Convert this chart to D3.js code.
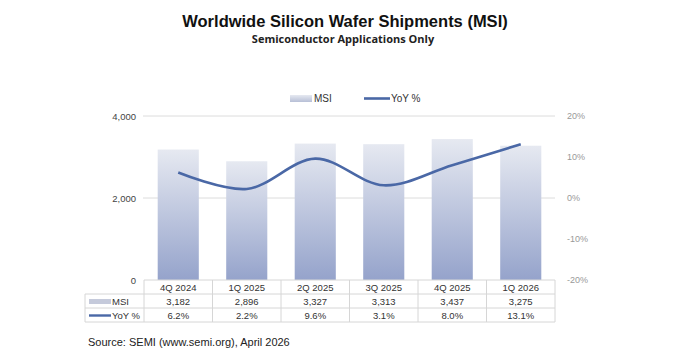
<!DOCTYPE html>
<html><head><meta charset="utf-8">
<script src="https://cdn.jsdelivr.net/npm/d3@7"></script>
<style>body{margin:0;background:#fff}svg{font-family:Arial,"Liberation Sans",sans-serif}</style>
</head><body>
<svg id="c" width="700" height="350"></svg>
<script>
const categories = ["4Q 2024","1Q 2025","2Q 2025","3Q 2025","4Q 2025","1Q 2026"];
const msi = [3182, 2896, 3327, 3313, 3437, 3275];
const yoy = [6.2, 2.2, 9.6, 3.1, 8.0, 13.1];
const leftTicks = [0, 2000, 4000];
const rightTicks = [-20, -10, 0, 10, 20];
const msiLabels = ["3,182","2,896","3,327","3,313","3,437","3,275"];
const yoyLabels = ["6.2%","2.2%","9.6%","3.1%","8.0%","13.1%"];

const svg = d3.select("#c");
const x0 = 144, x1 = 555, yTop = 116, yBot = 280;
const x = d3.scaleBand().domain(categories).range([x0, x1]).paddingInner(0.4).paddingOuter(0.2);
const xb = d3.scaleBand().domain(categories).range([x0, x1]);
const yL = d3.scaleLinear().domain([0, 4000]).range([yBot, yTop]);
const yR = d3.scaleLinear().domain([-20, 20]).range([yBot, yTop]);

const defs = svg.append("defs");
const g = defs.append("linearGradient").attr("id","bg").attr("x1",0).attr("y1",0).attr("x2",0).attr("y2",1);
g.append("stop").attr("offset","0%").attr("stop-color","#e6e9f1");
g.append("stop").attr("offset","100%").attr("stop-color","#95a3cb");
const g2 = defs.append("linearGradient").attr("id","bg2").attr("x1",0).attr("y1",0).attr("x2",0).attr("y2",1);
g2.append("stop").attr("offset","0%").attr("stop-color","#e6e9f1");
g2.append("stop").attr("offset","100%").attr("stop-color","#b7bfd6");

// Title
svg.append("text").attr("x",345).attr("y",27).attr("text-anchor","middle")
  .attr("font-size",16.5).attr("font-weight","bold").attr("fill","#111")
  .text("Worldwide Silicon Wafer Shipments (MSI)");
svg.append("text").attr("x",343).attr("y",43).attr("text-anchor","middle")
  .attr("font-size",11).attr("font-weight","bold").attr("fill","#222")
  .attr("font-family","'Open Sans',sans-serif")
  .text("Semiconductor Applications Only");

// gridlines
svg.append("g").selectAll("line").data(leftTicks.filter(d=>d>0)).join("line")
  .attr("x1",x0-1).attr("x2",x1).attr("y1",d=>yL(d)).attr("y2",d=>yL(d))
  .attr("stroke","#dcdcdc").attr("stroke-width",1);

// left axis
const la = svg.append("g").attr("transform",`translate(${x0-6},0)`)
  .call(d3.axisLeft(yL).tickValues(leftTicks).tickSize(0).tickPadding(2).tickFormat(d3.format(",")));
la.select(".domain").remove();
la.selectAll("text").attr("font-size",9.5).attr("fill","#444").attr("font-family","Arial,sans-serif");

// right axis
const ra = svg.append("g").attr("transform",`translate(${x1+10},0)`)
  .call(d3.axisRight(yR).tickValues(rightTicks).tickSize(0).tickPadding(2).tickFormat(d=>d+"%"));
ra.select(".domain").remove();
ra.selectAll("text").attr("font-size",9).attr("fill","#999").attr("font-family","Arial,sans-serif");

// bars
svg.append("g").selectAll("rect").data(msi).join("rect")
  .attr("x",(d,i)=>x(categories[i])).attr("width",x.bandwidth())
  .attr("y",d=>yL(d)).attr("height",d=>yBot-yL(d)).attr("fill","url(#bg)");

// line
const line = d3.line().x((d,i)=>xb(categories[i])+xb.bandwidth()/2).y(d=>yR(d)).curve(d3.curveCatmullRom.alpha(0.5));
svg.append("path").datum(yoy).attr("d",line).attr("fill","none").attr("stroke","#4a68a6").attr("stroke-width",2.6);

// legend
const lg = svg.append("g");
lg.append("rect").attr("x",290).attr("y",95).attr("width",22).attr("height",7).attr("fill","url(#bg2)");
lg.append("text").attr("x",314).attr("y",102).attr("font-size",10).attr("fill","#333").text("MSI");
lg.append("line").attr("x1",364).attr("x2",390).attr("y1",98.5).attr("y2",98.5).attr("stroke","#4a68a6").attr("stroke-width",2.6);
lg.append("text").attr("x",391).attr("y",102).attr("font-size",10).attr("fill","#333").text("YoY %");

// data table
const rows = [280, 294, 308, 322];
const tl = 85, bc = "#d6d6d6";
const t = svg.append("g");
// horizontal lines
t.append("line").attr("x1",x0).attr("x2",x1).attr("y1",rows[0]).attr("y2",rows[0]).attr("stroke",bc);
[rows[1],rows[2],rows[3]].forEach(yv=>{
  t.append("line").attr("x1",tl).attr("x2",x1).attr("y1",yv).attr("y2",yv).attr("stroke",bc);
});
// vertical lines
t.append("line").attr("x1",tl).attr("x2",tl).attr("y1",rows[1]).attr("y2",rows[3]).attr("stroke",bc);
categories.forEach((c,i)=>{
  t.append("line").attr("x1",xb(c)).attr("x2",xb(c)).attr("y1",rows[0]).attr("y2",rows[3]).attr("stroke",bc);
});
t.append("line").attr("x1",x1).attr("x2",x1).attr("y1",rows[0]).attr("y2",rows[3]).attr("stroke",bc);
// header labels
t.selectAll("text.h").data(categories).join("text").attr("class","h")
  .attr("x",c=>xb(c)+xb.bandwidth()/2).attr("y",rows[0]+10.5).attr("text-anchor","middle")
  .attr("font-size",9.5).attr("fill","#333").text(c=>c);
t.selectAll("text.m").data(msiLabels).join("text").attr("class","m")
  .attr("x",(d,i)=>xb(categories[i])+xb.bandwidth()/2).attr("y",rows[1]+10.5).attr("text-anchor","middle")
  .attr("font-size",9.5).attr("fill","#333").text(d=>d);
t.selectAll("text.y").data(yoyLabels).join("text").attr("class","y")
  .attr("x",(d,i)=>xb(categories[i])+xb.bandwidth()/2).attr("y",rows[2]+10.5).attr("text-anchor","middle")
  .attr("font-size",9.5).attr("fill","#333").text(d=>d);
// row legends
t.append("rect").attr("x",89).attr("y",rows[1]+5).attr("width",22).attr("height",5).attr("fill","#c5cadb");
t.append("text").attr("x",112).attr("y",rows[1]+10.5).attr("font-size",9.5).attr("fill","#333").text("MSI");
t.append("line").attr("x1",89).attr("x2",111).attr("y1",rows[2]+7.5).attr("y2",rows[2]+7.5).attr("stroke","#4a68a6").attr("stroke-width",2.4);
t.append("text").attr("x",112).attr("y",rows[2]+10.5).attr("font-size",9.5).attr("fill","#333").text("YoY %");

// source
svg.append("text").attr("x",88).attr("y",346).attr("font-size",11).attr("fill","#222").text("Source: SEMI (www.semi.org), April 2026");
</script>
</body></html>
